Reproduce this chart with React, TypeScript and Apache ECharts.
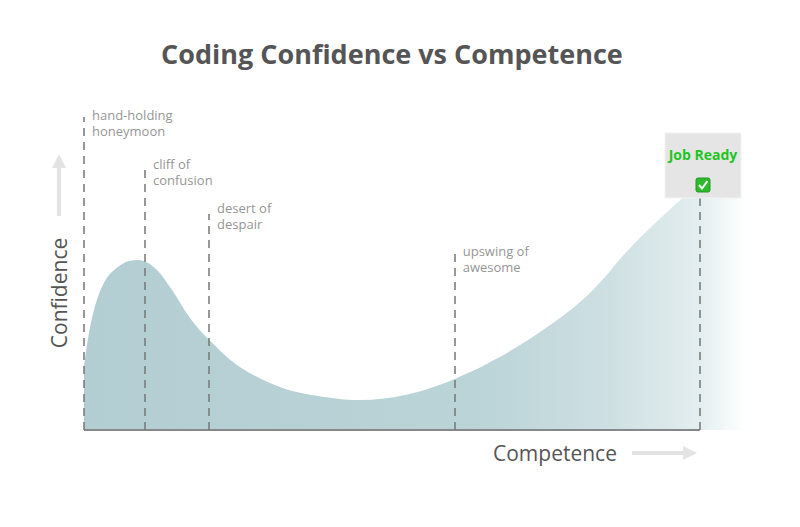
import React, { useEffect, useRef } from 'react';
import * as echarts from 'echarts';

// curve: competence (x) vs confidence (y)
const curveX = [0, 1.3, 3.4, 6.2, 8.8, 11.5, 14.3, 17.2, 20.5, 25.3, 31.8, 37, 44.8, 52.5, 60.2, 67.5, 75, 82, 89, 96.8, 107.5];
const curveY = [26.3, 46.7, 62.1, 69.2, 70.8, 67.5, 58.3, 46.7, 37.1, 26.3, 17.9, 14.6, 12.5, 14.8, 21.3, 30.4, 42.5, 56.7, 76.7, 95.8, 120.8];

// stage markers
const stageNames = ['hand-holding\nhoneymoon', 'cliff of\nconfusion', 'desert of\ndespair', 'upswing of\nawesome', ''];
const stageX = [0, 9.9, 20.3, 60.2, 100];
const stageTop = [130.4, 109.2, 90, 75, 96.7];
const labelTop = [134.6, 114.2, 96, 78];

export default function App() {
  const ref = useRef<HTMLDivElement>(null);

  useEffect(() => {
    if (!ref.current) return;
    document.body.style.margin = '0';
    const chart = echarts.init(ref.current, null, { renderer: 'svg' });
    const font = '"Open Sans", sans-serif';
    chart.setOption({
      animation: false,
      textStyle: { fontFamily: font },
      title: {
        text: 'Coding Confidence vs Competence',
        left: 156,
        top: 35,
        textStyle: { color: '#555', fontSize: 27, fontWeight: 'bold', fontFamily: font },
      },
      grid: { left: 84, right: 54, top: 94, bottom: 97 },
      xAxis: { type: 'value', min: 0, max: 107.5, show: false },
      yAxis: { type: 'value', min: 0, max: 140, show: false },
      series: [
        {
          type: 'line',
          data: curveX.map((x, i) => [x, curveY[i]]),
          smooth: 0.35,
          symbol: 'none',
          lineStyle: { width: 0, opacity: 0 },
          areaStyle: {
            opacity: 1,
            color: new echarts.graphic.LinearGradient(0, 0, 1, 0, [
              { offset: 0, color: '#b3ced2' },
              { offset: 0.6, color: '#bad4d8' },
              { offset: 0.8, color: '#cfe0e3' },
              { offset: 0.93, color: '#e3eeef' },
              { offset: 1, color: '#ffffff' },
            ]),
          },
          markLine: {
            silent: true,
            symbol: 'none',
            label: { show: false },
            data: [
              [
                { coord: [0, 0], lineStyle: { type: 'solid', color: '#888', width: 2 } },
                { coord: [100, 0] },
              ],
              ...stageX.map((x, i) => [
                { coord: [x, 0], lineStyle: { type: [8, 6], color: '#777', width: 1.5 } },
                { coord: [x, stageTop[i]] },
              ]),
            ],
          },
        },
        {
          type: 'scatter',
          clip: false,
          symbolSize: 0,
          silent: true,
          data: labelTop.map((y, i) => ({ value: [stageX[i], y], name: stageNames[i] })),
          label: {
            show: true,
            formatter: (p: any) => p.name,
            position: [8, 0],
            align: 'left',
            verticalAlign: 'top',
            color: '#777',
            fontSize: 13,
            lineHeight: 16,
            fontFamily: font,
          },
        },
      ],
      graphic: [
        {
          type: 'text',
          x: 59,
          y: 293,
          rotation: Math.PI / 2,
          style: { text: 'Confidence', align: 'center', verticalAlign: 'middle', fill: '#555', font: `21px ${font}` },
        },
        {
          type: 'polygon',
          shape: { points: [[59, 154], [66, 168], [61, 168], [61, 216], [57, 216], [57, 168], [52, 168]] },
          style: { fill: '#e3e3e3' },
        },
        {
          type: 'text',
          x: 493,
          y: 453,
          style: { text: 'Competence', align: 'left', verticalAlign: 'middle', fill: '#555', font: `21px ${font}` },
        },
        {
          type: 'polygon',
          shape: { points: [[697, 453], [683, 446], [683, 451], [632, 451], [632, 455], [683, 455], [683, 460]] },
          style: { fill: '#e3e3e3' },
        },
        {
          type: 'group',
          z: 100,
          children: [
            {
              type: 'rect',
              z: 100,
              shape: { x: 665, y: 133, width: 76, height: 65 },
              style: { fill: '#e5e5e5', stroke: '#f2f2f2', lineWidth: 1 },
            },
            {
              type: 'text',
              z: 101,
              x: 703,
              y: 154,
              style: { text: 'Job Ready', align: 'center', verticalAlign: 'middle', fill: '#1fc41f', font: `bold 14px ${font}` },
            },
            {
              type: 'rect',
              z: 101,
              shape: { x: 696, y: 178, width: 14, height: 14, r: 2 },
              style: { fill: '#2eb82e', stroke: '#239b23', lineWidth: 1 },
            },
            {
              type: 'polyline',
              z: 102,
              shape: { points: [[699, 185], [702, 188.5], [707.5, 181]] },
              style: { stroke: '#fff', lineWidth: 2, fill: null },
            },
          ],
        },
      ],
    });
    return () => chart.dispose();
  }, []);

  return <div ref={ref} style={{ width: 800, height: 527 }} />;
}
